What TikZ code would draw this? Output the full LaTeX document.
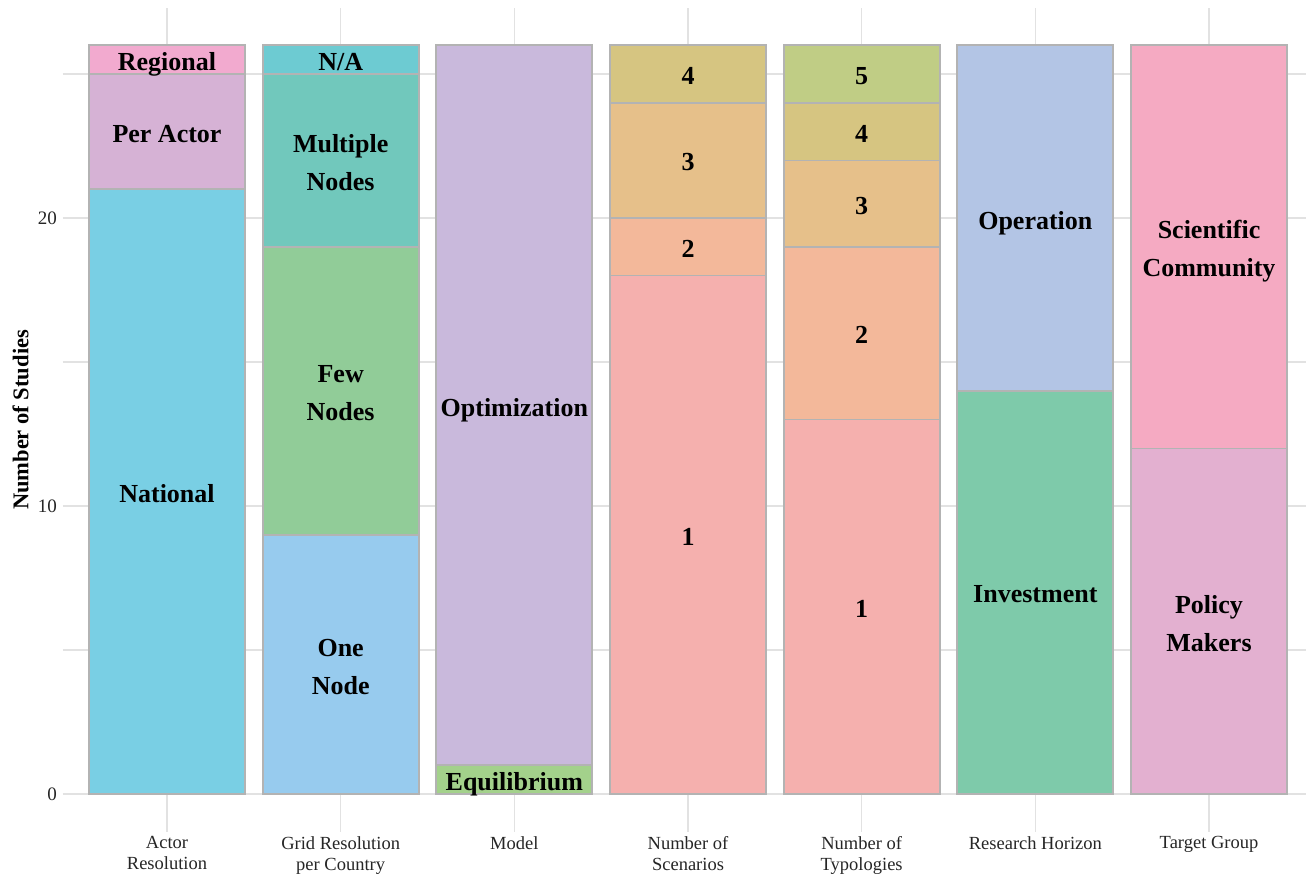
\documentclass[tikz,border=0pt]{standalone}
\usepackage{fontspec}
\setmainfont{Liberation Serif}
\definecolor{cNational}{HTML}{79CFE4}
\definecolor{cPerActor}{HTML}{D6B2D5}
\definecolor{cRegional}{HTML}{F2AACF}
\definecolor{cOneNode}{HTML}{97CBEE}
\definecolor{cFewNodes}{HTML}{91CC98}
\definecolor{cMultiNodes}{HTML}{71C8BC}
\definecolor{cNA}{HTML}{6DCBD2}
\definecolor{cOptim}{HTML}{C9B9DC}
\definecolor{cEquil}{HTML}{A3D18B}
\definecolor{cOne}{HTML}{F5B0AE}
\definecolor{cTwo}{HTML}{F3B89A}
\definecolor{cThree}{HTML}{E6C08A}
\definecolor{cFour}{HTML}{D6C581}
\definecolor{cFive}{HTML}{C0CD85}
\definecolor{cOperation}{HTML}{B3C5E5}
\definecolor{cInvest}{HTML}{7ECAAA}
\definecolor{cSciComm}{HTML}{F5AAC2}
\definecolor{cPolicy}{HTML}{E3B0D0}
\definecolor{gridcol}{HTML}{E2E2E2}
\definecolor{bordercol}{HTML}{B3B3B3}
\tikzset{
  segsty/.style={draw=bordercol, line width=1.7pt},
  gridsty/.style={draw=gridcol, line width=1.3pt},
  seglabel/.style={font=\bfseries\fontsize{26}{38}\selectfont, align=center, anchor=center, inner sep=0pt, text depth=0pt, yshift=-2pt},
  xlab/.style={font=\fontsize{18.5}{20.5}\selectfont, align=center, anchor=north, inner sep=0pt, text=black!85},
  ylab/.style={font=\fontsize{19}{22}\selectfont, anchor=east, inner sep=0pt, text=black!85},
}
\newcommand{\barseg}[4]{\draw[segsty, fill=#4] ({#1-78},#2) rectangle ({#1+78},#3);}
\begin{document}
\begin{tikzpicture}[x=1pt,y=1pt]
\fill[white] (0,0) rectangle (1306,875);
\useasboundingbox (0,0) rectangle (1306,875);
% grid
\foreach \v in {0,5,...,25} {\draw[gridsty] (62.8,{81+28.8*\v}) -- (1306,{81+28.8*\v});}
\foreach \c in {167,340.67,514.33,688,861.67,1035.33,1209} {\draw[gridsty] (\c,43) -- (\c,867);}
\begin{scope}[shift={(0,81)}, y=28.8pt]
% bar 1
\barseg{167}{0}{21}{cNational}
\barseg{167}{21}{25}{cPerActor}
\barseg{167}{25}{26}{cRegional}
% bar 2
\barseg{340.67}{0}{9}{cOneNode}
\barseg{340.67}{9}{19}{cFewNodes}
\barseg{340.67}{19}{25}{cMultiNodes}
\barseg{340.67}{25}{26}{cNA}
% bar 3
\barseg{514.33}{0}{1}{cEquil}
\barseg{514.33}{1}{26}{cOptim}
% bar 4
\barseg{688}{0}{18}{cOne}
\barseg{688}{18}{20}{cTwo}
\barseg{688}{20}{24}{cThree}
\barseg{688}{24}{26}{cFour}
% bar 5
\barseg{861.67}{0}{13}{cOne}
\barseg{861.67}{13}{19}{cTwo}
\barseg{861.67}{19}{22}{cThree}
\barseg{861.67}{22}{24}{cFour}
\barseg{861.67}{24}{26}{cFive}
% bar 6
\barseg{1035.33}{0}{14}{cInvest}
\barseg{1035.33}{14}{26}{cOperation}
% bar 7
\barseg{1209}{0}{12}{cPolicy}
\barseg{1209}{12}{26}{cSciComm}
% labels
\node[seglabel] (lNational) at (167,10.5) {National};
\node[seglabel] (lPerActor) at (167,23) {Per Actor};
\node[seglabel] (lRegional) at (167,25.5) {Regional};
\node[seglabel] (lOneNode) at (340.67,4.5) {One\\Node};
\node[seglabel] (lFewNodes) at (340.67,14) {Few\\Nodes};
\node[seglabel] (lMultiNodes) at (340.67,22) {Multiple\\Nodes};
\node[seglabel] (lNA) at (340.67,25.5) {N/A};
\node[seglabel] (lEquil) at (514.33,0.5) {Equilibrium};
\node[seglabel] (lOptim) at (514.33,13.5) {Optimization};
\node[seglabel] (lScA) at (688,9) {1};
\node[seglabel] (lScB) at (688,19) {2};
\node[seglabel] (lScC) at (688,22) {3};
\node[seglabel] (lScD) at (688,25) {4};
\node[seglabel] (lTyA) at (861.67,6.5) {1};
\node[seglabel] (lTyB) at (861.67,16) {2};
\node[seglabel] (lTyC) at (861.67,20.5) {3};
\node[seglabel] (lTyD) at (861.67,23) {4};
\node[seglabel] (lTyE) at (861.67,25) {5};
\node[seglabel] (lInvest) at (1035.33,7) {Investment};
\node[seglabel] (lOperation) at (1035.33,20) {Operation};
\node[seglabel] (lPolicy) at (1209,6) {Policy\\Makers};
\node[seglabel] (lSciComm) at (1209,19) {Scientific\\Community};
% y ticks
\node[ylab] (t0) at (57,0) {0};
\node[ylab] (t10) at (57,10) {10};
\node[ylab] (t20) at (57,20) {20};
\end{scope}
% y title
\node[font=\bfseries\fontsize{22.5}{27}\selectfont, rotate=90, inner sep=0pt] (ytitle) at (20.5,455) {Number of Studies};
% x labels
\node[xlab] (xA) at (167,38.5) {Actor\\Resolution};
\node[xlab] (xB) at (340.67,38.5) {Grid Resolution\\per Country};
\node[xlab] (xC) at (514.33,38.5) {Model};
\node[xlab] (xD) at (688,38.5) {Number of\\Scenarios};
\node[xlab] (xE) at (861.67,38.5) {Number of\\Typologies};
\node[xlab] (xF) at (1035.33,38.5) {Research Horizon};
\node[xlab] (xG) at (1209,38.5) {Target Group};
\end{tikzpicture}
\end{document}
